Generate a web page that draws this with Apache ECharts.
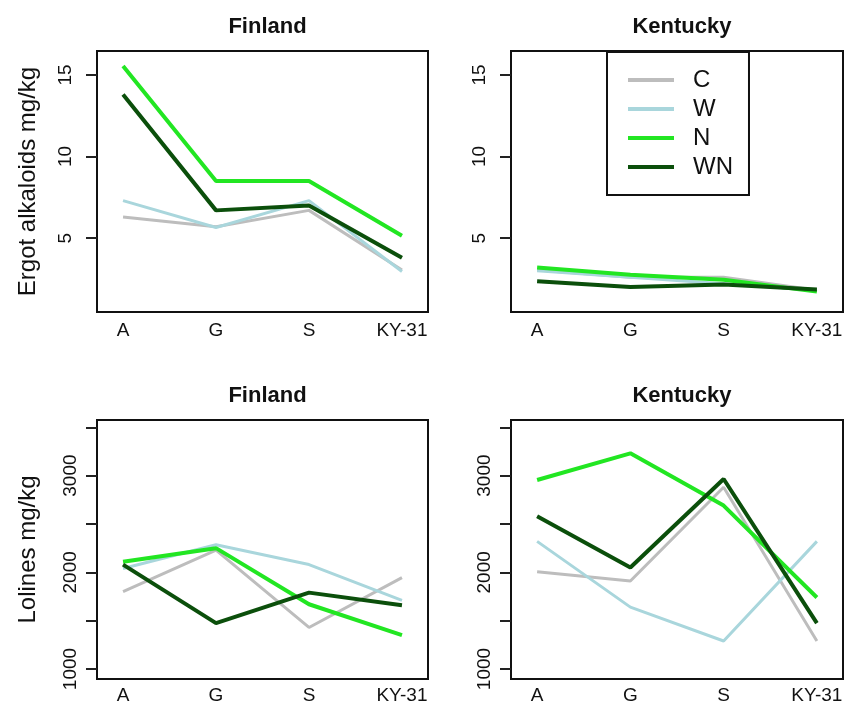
<!DOCTYPE html>
<html>
<head>
<meta charset="utf-8">
<script src="https://cdn.jsdelivr.net/npm/echarts@6/dist/echarts.min.js"></script>
<style>
html, body { margin: 0; background: #fff; }
#chart { width: 853px; height: 705px; }
</style>
</head>
<body>
<div id="chart"></div>
<script>
// categories (x axis)
var cats = ['A', 'G', 'S', 'KY-31'];
var groups = ['C', 'W', 'N', 'WN'];

// ergot alkaloids mg/kg - Finland
var ergotFinC  = [6.3, 5.7, 6.7, 3.05];
var ergotFinW  = [7.3, 5.65, 7.3, 2.95];
var ergotFinN  = [15.55, 8.5, 8.5, 5.15];
var ergotFinWN = [13.8, 6.7, 7.0, 3.8];

// ergot alkaloids mg/kg - Kentucky
var ergotKenC  = [3.05, 2.6, 2.6, 1.8];
var ergotKenW  = [3.0, 2.6, 2.2, 1.8];
var ergotKenN  = [3.2, 2.75, 2.45, 1.72];
var ergotKenWN = [2.35, 2.0, 2.15, 1.85];

// lolines mg/kg - Finland
var lolFinC  = [1800, 2230, 1430, 1945];
var lolFinW  = [2040, 2285, 2080, 1710];
var lolFinN  = [2110, 2250, 1670, 1350];
var lolFinWN = [2080, 1475, 1790, 1660];

// lolines mg/kg - Kentucky
var lolKenC  = [2005, 1910, 2880, 1290];
var lolKenW  = [2320, 1640, 1290, 2320];
var lolKenN  = [2955, 3230, 2690, 1740];
var lolKenWN = [2580, 2050, 2965, 1475];

// tick values
var ergotTicks = [5, 10, 15];
var lolTicks = [1000, 1500, 2000, 2500, 3000, 3500];
var lolLabels = [1000, 2000, 3000];

var colors = { C: '#bdbdbd', W: '#a9d6dc', N: '#22e622', WN: '#0b4f0b' };
var widths = { C: 3, W: 3, N: 4, WN: 4 };
var FONT = 'Liberation Sans';

var panels = [
  { title: 'Finland',  data: [ergotFinC, ergotFinW, ergotFinN, ergotFinWN], left: 97,  top: 51,  w: 331, name: 'Ergot alkaloids mg/kg', min: 0.47, max: 16.47, ticks: ergotTicks, labels: ergotTicks, lm: 22 },
  { title: 'Kentucky', data: [ergotKenC, ergotKenW, ergotKenN, ergotKenWN], left: 511, top: 51,  w: 332, name: '', min: 0.47, max: 16.47, ticks: ergotTicks, labels: ergotTicks, lm: 22 },
  { title: 'Finland',  data: [lolFinC, lolFinW, lolFinN, lolFinWN], left: 97,  top: 420, w: 331, name: 'Lolines mg/kg', min: 897, max: 3575, ticks: lolTicks, labels: lolLabels, lm: 17 },
  { title: 'Kentucky', data: [lolKenC, lolKenW, lolKenN, lolKenWN], left: 511, top: 420, w: 332, name: '', min: 897, max: 3575, ticks: lolTicks, labels: lolLabels, lm: 17 }
];

var grid = [], xAxis = [], yAxis = [], series = [], title = [];

panels.forEach(function (p, i) {
  grid.push({
    left: p.left, top: p.top, width: p.w, height: 261,
    show: true, borderColor: '#111', borderWidth: 2, backgroundColor: 'transparent'
  });
  title.push({
    text: p.title,
    left: p.left + p.w / 2, top: p.top - 40,
    textAlign: 'center',
    textStyle: { fontFamily: FONT, fontWeight: 'bold', fontSize: 22, color: '#111' }
  });
  xAxis.push({
    type: 'value', gridIndex: i, min: 0.72, max: 4.28,
    axisLine: { show: false }, axisTick: { show: false }, splitLine: { show: false },
    axisLabel: {
      customValues: [1, 2, 3, 4],
      formatter: function (v) { return cats[Math.round(v) - 1]; },
      margin: i < 2 ? 9 : 7,
      fontFamily: FONT, fontSize: 19, color: '#111'
    }
  });
  yAxis.push({
    type: 'value', gridIndex: i, min: p.min, max: p.max,
    name: p.name, nameLocation: 'middle', nameRotate: 90, nameGap: 57,
    nameTextStyle: { fontFamily: FONT, fontSize: 24, color: '#111' },
    axisLine: { show: false }, splitLine: { show: false },
    axisTick: { show: true, length: 11, customValues: p.ticks, lineStyle: { color: '#222', width: 2 } },
    axisLabel: {
      customValues: p.labels, rotate: 90, margin: p.lm,
      formatter: function (v) { return String(v); },
      fontFamily: FONT, fontSize: 19, color: '#111'
    }
  });
  p.data.forEach(function (vals, k) {
    var g = groups[k];
    series.push({
      name: g, type: 'line', xAxisIndex: i, yAxisIndex: i,
      data: vals.map(function (v, j) { return [j + 1, v]; }),
      symbol: 'none', smooth: false,
      itemStyle: { color: colors[g] },
      lineStyle: { color: colors[g], width: widths[g] },
      z: 2 + k
    });
  });
});

var option = {
  animation: false,
  backgroundColor: '#fff',
  title: title,
  grid: grid,
  xAxis: xAxis,
  yAxis: yAxis,
  legend: {
    data: groups.map(function (g) { return { name: g, icon: 'rect', itemStyle: { color: colors[g] } }; }),
    orient: 'vertical',
    left: 607, top: 52,
    padding: [16, 16, 16, 21],
    itemWidth: 46, itemHeight: 4, itemGap: 5,
    borderColor: '#111', borderWidth: 2, backgroundColor: '#fff',
    selectedMode: false,
    textStyle: { fontFamily: FONT, fontSize: 24, color: '#111', padding: [0, 0, 0, 14] }
  },
  series: series
};

var chart = echarts.init(document.getElementById('chart'));
chart.setOption(option);
</script>
</body>
</html>
